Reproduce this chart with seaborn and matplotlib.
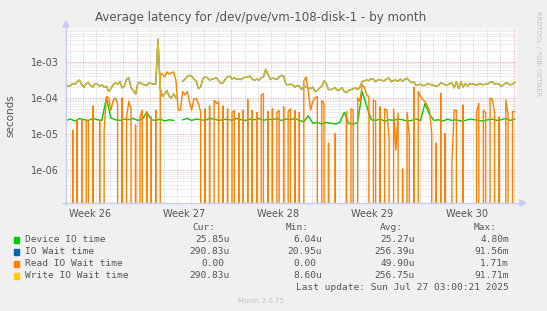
import numpy as np
import pandas as pd
import seaborn as sns
import matplotlib

matplotlib.use("Agg")
import matplotlib.pyplot as plt
from matplotlib.patches import Polygon, Rectangle
from matplotlib.lines import Line2D
from matplotlib.ticker import FixedLocator, NullLocator, FuncFormatter

W, H = 547, 311
nan = np.nan

# latencies in microseconds
# device_io: one value every 8 hours, the others every 4 hours
device_io = [24, 26, 23, 27, 25, 24, 27, 25, 24, 100,
             28, 25, 24, 26, 25, 27, 24, 26, 40, 25,
             24, 26, 23, 25, 24, nan, 25, 27, 24, 26,
             25, 24, 27, 26, 24, 25, 26, 24, 27, 25,
             24, 26, 25, 27, 24, 26, 25, 27, 24, 26,
             25, 27, 24, 22, 32, 20, 21, 19, 21, 20,
             19, 21, 40, 20, 19, 21, 150, 60, 25, 24,
             26, 23, 25, 24, 26, 25, 23, 24, 26, 24,
             70, 35, 24, 25, 23, 26, 24, 25, 23, 24,
             26, 25, 24, 23, 25, 26, 24, 25, 27, 24,
             26]

write_wait = [230, 210, 220, 250, 240, 280, 310, 230, 200, 250,
              260, 220, 200, 250, 240, 210, 230, 200, 210, 150,
              180, 230, 260, 240, 280, 190, 210, 330, 360, 190,
              160, 125, 250, 270, 240, 230, 220, 260, 250, 240,
              240, 4200, 180, 110, 130, 160, 110, 100, 130, 100,
              nan, nan, 290, 330, 380, 420, 400, 330, 300, 180,
              200, 340, 380, 360, 310, 330, 340, 360, 300, 250,
              260, 330, 380, 400, 330, 360, 330, 340, 320, 360,
              370, 380, 400, 330, 310, 330, 310, 360, 380, 620,
              450, 330, 350, 340, 330, 380, 420, 400, 240, 230,
              240, 230, 200, 220, 210, 170, 220, 200, 190, 180,
              200, 150, 160, 190, 210, 300, 250, 170, 170, 180,
              190, 160, 170, 190, 150, 140, 160, 170, 180, 190,
              170, 200, 280, 300, 310, 300, 340, 330, 280, 320,
              320, 300, 300, 340, 350, 280, 300, 310, 290, 330,
              290, 330, 350, 300, 260, 280, 220, 230, 240, 220,
              220, 250, 240, 230, 220, 210, 220, 260, 250, 230,
              230, 250, 260, 190, 280, 180, 280, 200, 250, 210,
              250, 240, 240, 220, 250, 240, 230, 240, 240, 270,
              280, 240, 250, 240, 210, 230, 260, 250, 230, 240,
              270]

# total IO wait sits right under the write line
io_wait = list(write_wait)

read_wait = [0, 0, 0, 13, 0, 25, 0, 25, 0, 25,
             22, 0, 60, 0, 0, 25, 0, 13, 110, 100,
             46, 85, 100, 70, 0, 100, 0, 30, 80, 50,
             0, 18, 0, 30, 46, 0, 42, 0, 30, 0,
             46, 0, 480, 450, 380, 520, 450, 500, 520, 300,
             46, 46, 150, 120, 150, 80, 46, 95, 95, 70,
             42, 0, 50, 0, 60, 0, 85, 70, 80, 0,
             60, 0, 50, 0, 40, 45, 0, 38, 0, 46,
             0, 90, 0, 45, 0, 40, 0, 120, 130, 0,
             42, 0, 50, 0, 40, 45, 0, 57, 0, 42,
             50, 0, 45, 0, 40, 0, 300, 380, 150, 46,
             80, 100, 110, 0, 85, 70, 0, 5.6, 0, 0,
             10.5, 0, 0, 0, 0, 42, 0, 50, 46, 0,
             100, 80, 230, 200, 120, 110, 0, 88, 80, 0,
             57, 0, 50, 46, 6.9, 0, 50, 3.6, 38, 0,
             1.1, 0, 40, 8.5, 0, 200, 0, 150, 110, 90,
             80, 60, 46, 10.5, 0, 5.6, 0, 134, 0, 10.5,
             0, 0, 1.6, 46, 46, 0, 0, 64, 0, 0,
             0, 0, 0, 42, 71, 0, 45, 40, 0, 100,
             90, 40, 0, 30, 0, 0, 88, 35, 0, 42,
             42]

week_labels = ["Week 26", "Week 27", "Week 28", "Week 29", "Week 30"]
y_ticks = [1e-6, 1e-5, 1e-4, 1e-3]

legend_names = ["Device IO time", "IO Wait time", "Read IO Wait time", "Write IO Wait time"]
legend_colors = ["#00CC00", "#0066B3", "#FF8000", "#FFCC00"]
cur_vals = ["25.85u", "290.83u", "0.00", "290.83u"]
min_vals = ["6.04u", "20.95u", "0.00", "8.60u"]
avg_vals = ["25.27u", "256.39u", "49.90u", "256.75u"]
max_vals = ["4.80m", "91.56m", "1.71m", "91.71m"]

GRAY_TXT = "#555555"
AXIS_COL = "#c8ccf0"


def fx(px):
    return px / W


def fy(py):
    return 1 - py / H


def frame(vals, per_day):
    d = pd.DataFrame({"day": np.arange(len(vals)) / per_day,
                      "sec": np.array(vals, dtype=float) * 1e-6})
    # split at the data gap so the line breaks there
    d["seg"] = d["sec"].isna().cumsum()
    return d.dropna()


fig = plt.figure(figsize=(W / 100, H / 100), dpi=100, facecolor="#F0F0F0")
ax = fig.add_axes([fx(66), fy(203), fx(517 - 66), (203 - 28) / H])
ax.set_facecolor("white")

ymin, ymax = 10 ** -6.9, 10 ** -2.07
xmax = 33.5

# grid first
for k in range(-6, 34):
    d = 5.26 + k
    if 0 < d < xmax:
        major = (k % 7 == 0)
        ax.axvline(d, color="#e0a0a0" if major else "#d0d0d0", lw=0.6,
                   ls=(0, (1, 1)), zorder=0)
for e in range(-7, -1):
    for m in range(1, 10):
        v = m * 10.0 ** e
        if ymin < v < ymax:
            ax.axhline(v, color="#e0a0a0" if m == 1 else "#d6d6d6", lw=0.6,
                       ls=(0, (1, 1)), zorder=0)

series = [(device_io, 3, legend_colors[0], 1.0, 1.0),
          (io_wait, 6, legend_colors[1], 1.0, 1.0),
          (read_wait, 6, legend_colors[2], 1.0, 1.0),
          (write_wait, 6, "#e8c010", 0.95, 1.0)]
for vals, per_day, col, alpha, lw in series:
    sns.lineplot(data=frame(vals, per_day), x="day", y="sec", units="seg",
                 estimator=None, sort=False, color=col, alpha=alpha,
                 lw=lw, ax=ax, legend=False)

ax.set_yscale("log")
ax.set_ylim(ymin, ymax)
ax.set_xlim(0, xmax)

ax.yaxis.set_major_locator(FixedLocator(y_ticks))
ax.yaxis.set_major_formatter(FuncFormatter(lambda v, p: f"{v:.0e}"))
ax.yaxis.set_minor_locator(NullLocator())
ax.xaxis.set_major_locator(FixedLocator([1.76 + 7 * k for k in range(5)]))
ax.xaxis.set_major_formatter(FuncFormatter(lambda v, p: week_labels[p] if p < 5 else ""))
ax.xaxis.set_minor_locator(NullLocator())
ax.tick_params(axis="both", length=0, labelsize=7, labelcolor=GRAY_TXT, pad=5)
ax.tick_params(axis="x", pad=4)
ax.set_xlabel("")
ax.set_ylabel("seconds", fontsize=7.5, color=GRAY_TXT, labelpad=11)
for s in ax.spines.values():
    s.set_visible(False)

# axis lines with arrow heads
fig.add_artist(Line2D([fx(66), fx(66)], [fy(205), fy(24)], color=AXIS_COL, lw=1))
fig.add_artist(Line2D([fx(62), fx(522)], [fy(203), fy(203)], color=AXIS_COL, lw=1))
fig.add_artist(Polygon([[fx(63), fy(27)], [fx(69), fy(27)], [fx(66), fy(21)]],
                       closed=True, color=AXIS_COL, transform=fig.transFigure))
fig.add_artist(Polygon([[fx(520), fy(200)], [fx(520), fy(206)], [fx(526), fy(203)]],
                       closed=True, color=AXIS_COL, transform=fig.transFigure))

fig.text(fx(261), fy(18), "Average latency for /dev/pve/vm-108-disk-1 - by month",
         ha="center", va="center", fontsize=8.6, color=GRAY_TXT)
fig.text(fx(538), fy(54), "RRDTOOL / TOBI OETIKER", rotation=270,
         ha="center", va="center", fontsize=4.8, color="#c0c0c0")

mono = dict(family="DejaVu Sans Mono", fontsize=6.8, color=GRAY_TXT, va="center")
cw = 5.72
fig.text(fx(215), fy(228), "Cur:", ha="right", **mono)
fig.text(fx(309), fy(228), "Min:", ha="right", **mono)
fig.text(fx(403), fy(228), "Avg:", ha="right", **mono)
fig.text(fx(497), fy(228), "Max:", ha="right", **mono)
row_y = [240, 252, 264, 276]
cols = [(cur_vals, 230), (min_vals, 321.7), (avg_vals, 415), (max_vals, 509)]
for i, name in enumerate(legend_names):
    y = row_y[i]
    fig.add_artist(Rectangle((fx(13.5), fy(y + 2.8)), fx(5.5), 5.5 / H,
                             color=legend_colors[i], transform=fig.transFigure))
    fig.text(fx(25), fy(y), name, ha="left", **mono)
    for vals, xr in cols:
        v = vals[i]
        x = xr if v[-1] in "um" else xr - cw
        fig.text(fx(x), fy(y), v, ha="right", **mono)
fig.text(fx(509), fy(288), "Last update: Sun Jul 27 03:00:21 2025", ha="right", **mono)
fig.text(fx(261), fy(301), "Munin 2.0.75", ha="center", va="center",
         fontsize=5, color="#c0c0c0")

fig.savefig("out.png", dpi=100, facecolor=fig.get_facecolor())
